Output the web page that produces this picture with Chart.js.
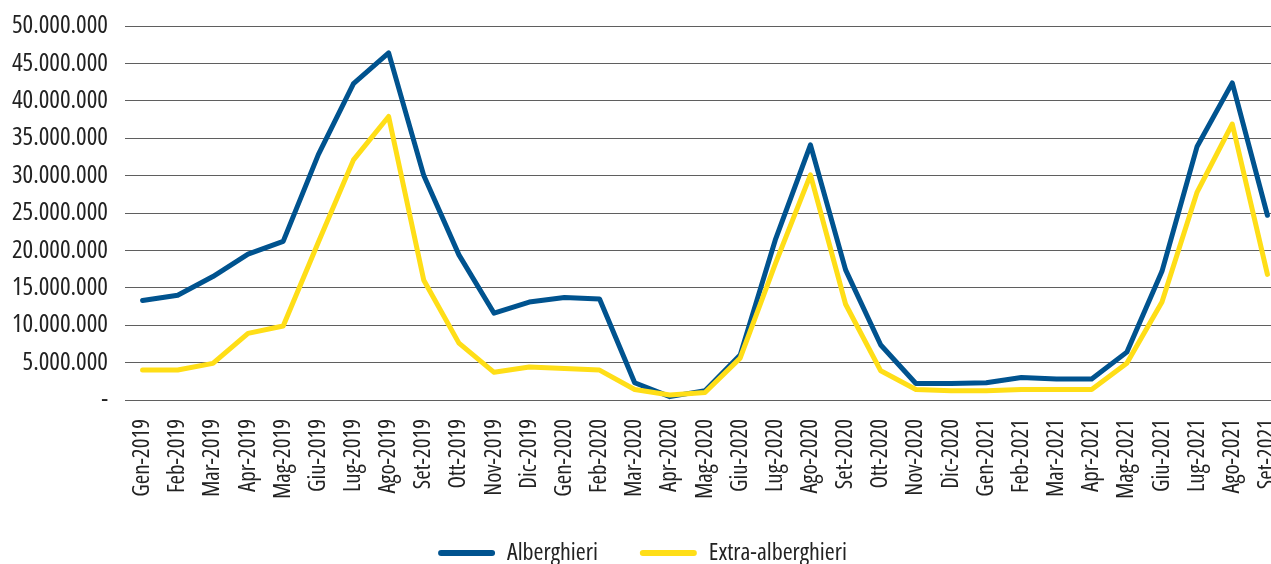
<!DOCTYPE html>
<html>
<head>
<meta charset="utf-8">
<script src="https://cdn.jsdelivr.net/npm/chart.js@4"></script>
<style>
  html, body { margin: 0; padding: 0; overflow: hidden; background: #fff; }
  #wrap { position: absolute; left: 0; top: 0; width: 1298px; height: 575px; }
</style>
</head>
<body>
<div id="wrap"><canvas id="presenze"></canvas></div>
<script>
// mesi e presenze
const mesi = ['Gen-2019','Feb-2019','Mar-2019','Apr-2019','Mag-2019','Giu-2019','Lug-2019','Ago-2019','Set-2019','Ott-2019','Nov-2019','Dic-2019',
              'Gen-2020','Feb-2020','Mar-2020','Apr-2020','Mag-2020','Giu-2020','Lug-2020','Ago-2020','Set-2020','Ott-2020','Nov-2020','Dic-2020',
              'Gen-2021','Feb-2021','Mar-2021','Apr-2021','Mag-2021','Giu-2021','Lug-2021','Ago-2021','Set-2021'];

const alberghieri = [13300000,14000000,16500000,19500000,21200000,32800000,42300000,46400000,30000000,19400000,11600000,13100000,
                     13700000,13500000,2300000,450000,1250000,6000000,21400000,34100000,17400000,7350000,2200000,2200000,
                     2300000,3000000,2800000,2800000,6400000,17200000,33900000,42400000,24700000];

const extraAlberghieri = [4000000,4000000,4900000,8900000,9900000,21100000,32100000,37900000,16000000,7600000,3700000,4400000,
                          4200000,4000000,1400000,670000,1000000,5600000,18200000,30100000,12800000,3900000,1400000,1250000,
                          1250000,1400000,1400000,1400000,4900000,13100000,27800000,36900000,16800000];

const yMax = 50000000;
const yStep = 5000000;

// "condensed" finisce nella stringa font del canvas
const FONT = '"Open Sans", sans-serif';
const STRETTO = 'condensed';

function puntini(v) {
    if (v === 0) return '-';
    return String(v).replace(/\B(?=(\d{3})+(?!\d))/g, '.');
}

var ctx = document.getElementById('presenze').getContext('2d');
var chart = new Chart(ctx, {
    type: 'line',
    data: {
        labels: mesi,
        datasets: [{
            label: 'Alberghieri',
            data: alberghieri,
            borderColor: '#00538F',
            backgroundColor: '#00538F',
            borderWidth: 5,
            pointRadius: 0,
            tension: 0,
            borderJoinStyle: 'round',
            borderCapStyle: 'round',
            order: 1
        }, {
            label: 'Extra-alberghieri',
            data: extraAlberghieri,
            borderColor: '#FFDE17',
            backgroundColor: '#FFDE17',
            borderWidth: 5,
            pointRadius: 0,
            tension: 0,
            borderJoinStyle: 'round',
            borderCapStyle: 'round',
            order: 0
        }]
    },
    options: {
        responsive: true,
        maintainAspectRatio: false,
        animation: false,
        layout: { padding: { top: 26, right: 13, left: 0, bottom: 0 } },
        scales: {
            x: {
                offset: true,
                grid: { display: false, drawTicks: false },
                border: { display: true, color: '#5f5f5f', width: 1 },
                ticks: {
                    minRotation: 90, maxRotation: 90,
                    autoSkip: false,
                    padding: 19,
                    color: '#222',
                    font: { family: FONT, weight: STRETTO, size: 23 }
                },
                afterFit: function (scale) {
                    scale.height = 99;
                    scale.paddingLeft = 0;
                    scale.paddingRight = 0;
                }
            },
            y: {
                min: 0, max: yMax,
                grid: { color: '#5f5f5f', lineWidth: 1, drawTicks: false },
                border: { display: false },
                ticks: {
                    stepSize: yStep,
                    padding: 17,
                    color: '#222',
                    font: { family: FONT, weight: STRETTO, size: 25 },
                    callback: function (v) { return puntini(v); }
                },
                afterFit: function (scale) {
                    scale.width = 125;
                    scale.paddingTop = 0;
                    scale.paddingBottom = 0;
                }
            }
        },
        plugins: {
            tooltip: { enabled: false },
            legend: {
                position: 'bottom',
                labels: {
                    boxWidth: 57,
                    boxHeight: 6,
                    padding: 42,
                    color: '#222',
                    font: { family: FONT, weight: STRETTO, size: 24 },
                    useBorderRadius: true,
                    borderRadius: 3,
                    generateLabels: function (chart) {
                        var items = Chart.defaults.plugins.legend.labels.generateLabels(chart);
                        items.forEach(function (it) {
                            it.lineWidth = 0;
                            it.fillStyle = it.strokeStyle;
                        });
                        return items.sort(function (a, b) { return a.datasetIndex - b.datasetIndex; });
                    }
                }
            }
        }
    }
});
</script>
</body>
</html>
